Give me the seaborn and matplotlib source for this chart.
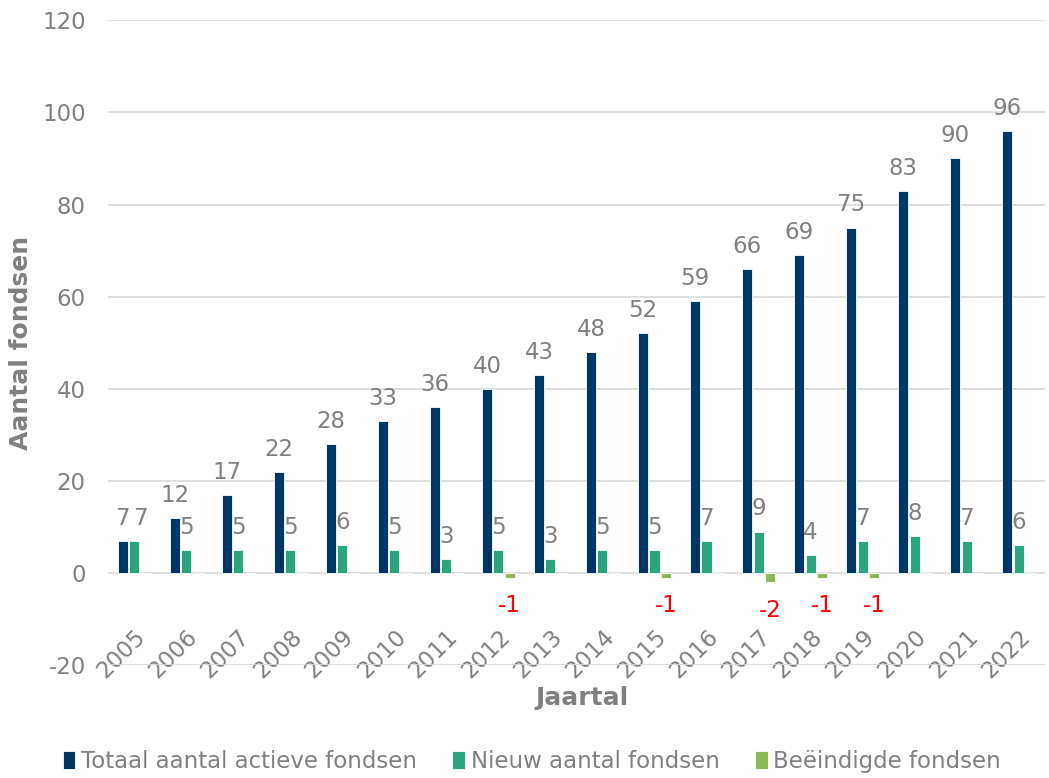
import matplotlib
matplotlib.use("Agg")
import matplotlib.pyplot as plt
import seaborn as sns
import pandas as pd

years = [str(y) for y in range(2005, 2023)]
totaal = [7, 12, 17, 22, 28, 33, 36, 40, 43, 48, 52, 59, 66, 69, 75, 83, 90, 96]
nieuw = [7, 5, 5, 5, 6, 5, 3, 5, 3, 5, 5, 7, 9, 4, 7, 8, 7, 6]
beeindigd = [0, 0, 0, 0, 0, 0, 0, -1, 0, 0, -1, 0, -2, -1, -1, 0, 0, 0]

series = ["Totaal aantal actieve fondsen", "Nieuw aantal fondsen", "Beëindigde fondsen"]
colors = ["#003865", "#2AA57F", "#8DB85A"]

df = pd.DataFrame({
    "Jaartal": years * 3,
    "waarde": totaal + nieuw + beeindigd,
    "reeks": [series[0]] * len(years) + [series[1]] * len(years) + [series[2]] * len(years),
})

sns.set_theme(style="white")
plt.rcParams["font.family"] = ["DejaVu Sans"]
plt.rcParams["axes.unicode_minus"] = False
grey = "#808080"
fs = 16.5

fig, ax = plt.subplots(figsize=(10.49, 7.78), dpi=100)
sns.barplot(data=df, x="Jaartal", y="waarde", hue="reeks", hue_order=series,
            palette=colors, saturation=1, width=0.66, gap=0.12,
            edgecolor="white", linewidth=0.6, legend=True, ax=ax)

# value labels
for cont, name in zip(ax.containers, series):
    if name == series[2]:
        labels = [str(v) if v != 0 else "" for v in beeindigd]
        ax.bar_label(cont, labels=labels, padding=12, color="red", fontsize=fs)
    else:
        vals = totaal if name == series[0] else nieuw
        txts = ax.bar_label(cont, labels=[str(v) for v in vals], padding=8,
                            color=grey, fontsize=fs)
        if name == series[1]:
            # nudge first label so it doesn't collide with its neighbour
            txts[0].xyann = (4.5, 8)

ax.set_ylim(-20, 120)
ax.set_yticks(range(-20, 121, 20))
ax.yaxis.grid(True, color="#D9D9D9", linewidth=1.2)
ax.set_axisbelow(True)
for s in ax.spines.values():
    s.set_visible(False)
ax.tick_params(axis="both", length=0, colors=grey, labelsize=fs)
ax.tick_params(axis="y", pad=16)
ax.tick_params(axis="x", pad=-29)
plt.setp(ax.get_xticklabels(), rotation=45, ha="right", rotation_mode="anchor")

ax.set_xlabel("Jaartal", fontsize=18, fontweight="bold", color=grey)
ax.xaxis.set_label_coords(0.506, -0.033)
ax.set_ylabel("Aantal fondsen", fontsize=18, fontweight="bold", color=grey)
ax.yaxis.set_label_coords(-0.08, 0.5)

handles, labels = ax.get_legend_handles_labels()
ax.legend_.remove()
fig.legend(handles, labels, loc="center", bbox_to_anchor=(0.507, 0.021), ncol=3,
           frameon=False, fontsize=fs, labelcolor=grey, handlelength=0.55,
           handleheight=0.8, handletextpad=0.25, columnspacing=1.55)

plt.subplots_adjust(left=0.103, right=0.996, top=0.974, bottom=0.145)
plt.savefig("out.png", dpi=100)
